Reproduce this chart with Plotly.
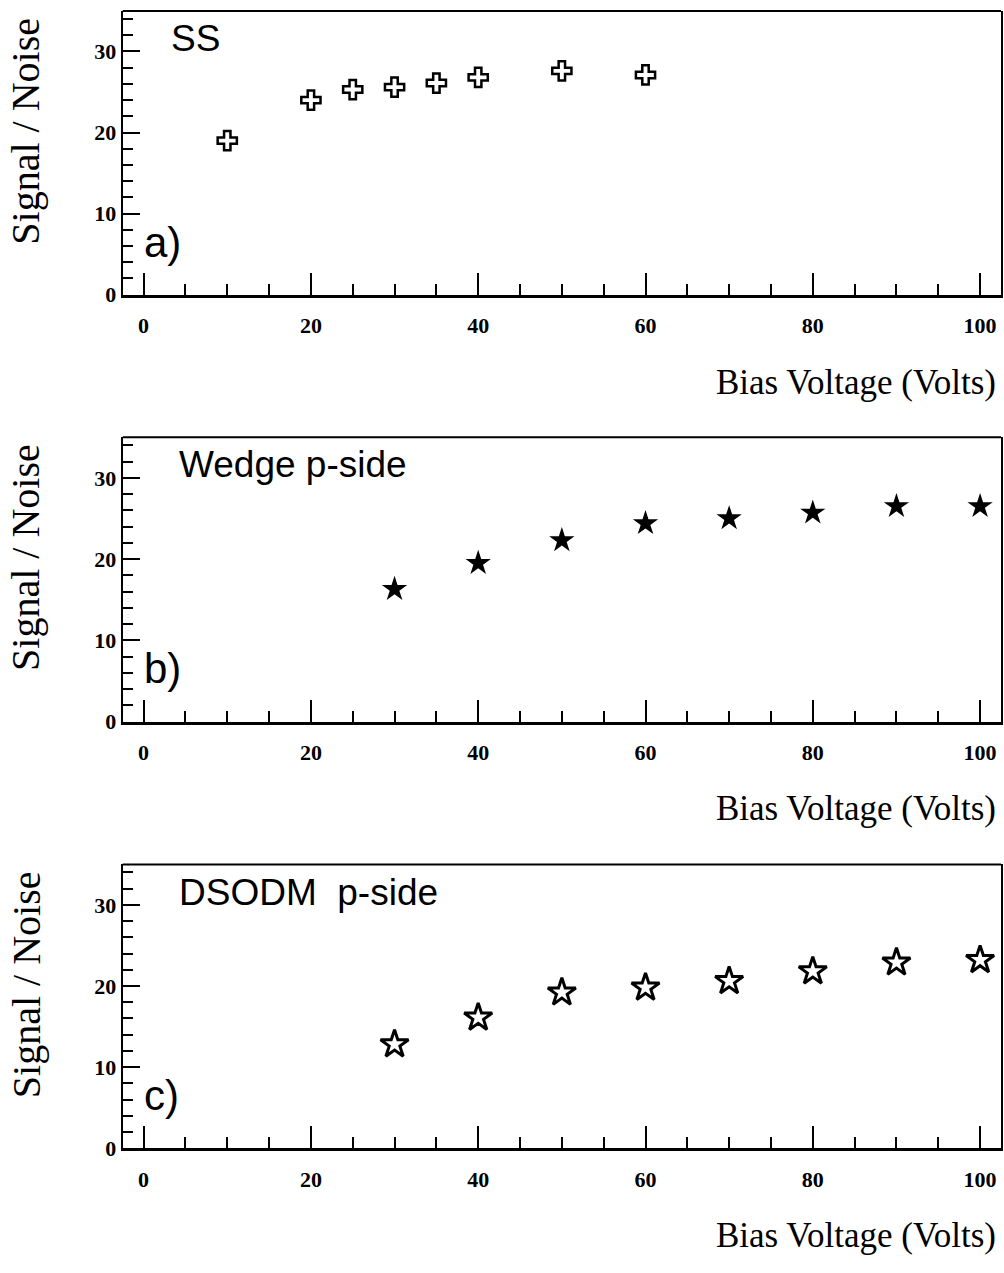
import plotly.graph_objects as go

# ---- data ----
ss_bias = [10, 20, 25, 30, 35, 40, 50, 60]
ss_sn = [19.0, 24.0, 25.3, 25.6, 26.1, 26.8, 27.6, 27.1]

wedge_bias = [30, 40, 50, 60, 70, 80, 90, 100]
wedge_sn = [16.3, 19.5, 22.3, 24.4, 25.0, 25.7, 26.5, 26.5]

dsodm_bias = [30, 40, 50, 60, 70, 80, 90, 100]
dsodm_sn = [12.8, 16.1, 19.2, 19.8, 20.6, 21.8, 22.9, 23.2]

panel_names = ["SS", "Wedge p-side", "DSODM  p-side"]
panel_letters = ["a)", "b)", "c)"]
x_title = "Bias Voltage (Volts)"
y_title = "Signal / Noise"

W, H = 1004, 1273
# panel pixel geometry (top, bottom) in page pixels
panels_px = [(11.0, 297.7), (441.7, 729.0), (873.3, 1160.0)]
x_left_px, x_right_px = 122.7, 1001.0

fig = go.Figure()

series = [
    (ss_bias, ss_sn, dict(symbol="cross-open", size=16, color="black", line=dict(color="black", width=2.5))),
    (wedge_bias, wedge_sn, dict(symbol="star", size=19, color="black", line=dict(color="black", width=0))),
    (dsodm_bias, dsodm_sn, dict(symbol="star-open", size=21, color="black", line=dict(color="black", width=3))),
]

tickfont = dict(family="Liberation Serif", size=22, color="black", weight="bold")
xdom = [x_left_px / W, x_right_px / W]
label_font = "Liberation Sans, Arial, sans-serif"

layout = dict(
    width=W, height=H,
    margin=dict(l=0, r=0, t=0, b=0),
    paper_bgcolor="white", plot_bgcolor="white",
    showlegend=False,
    annotations=[], shapes=[],
)

for i, (xs, ys, mk) in enumerate(series):
    n = "" if i == 0 else str(i + 1)
    top, bot = panels_px[i]
    ydom = [1 - bot / H, 1 - top / H]
    fig.add_trace(go.Scatter(x=xs, y=ys, mode="markers", marker=mk,
                             xaxis="x" + n, yaxis="y" + n, cliponaxis=False))
    layout["xaxis" + n] = dict(
        domain=xdom, anchor="y" + n, range=[-2.5, 102.5],
        tick0=0, dtick=20, ticks="inside", ticklen=22, tickwidth=1.5, tickcolor="black",
        minor=dict(ticks="inside", ticklen=11, tickwidth=1.5, tickcolor="black", dtick=5, tick0=0),
        showline=True, linewidth=3, linecolor="black",
        showgrid=False, zeroline=False, tickfont=tickfont, ticklabelstandoff=9,
    )
    layout["yaxis" + n] = dict(
        domain=ydom, anchor="x" + n, range=[0, 35],
        tick0=0, dtick=10, ticks="inside", ticklen=17, tickwidth=1.5, tickcolor="black",
        minor=dict(ticks="inside", ticklen=10, tickwidth=1.5, tickcolor="black", dtick=2, tick0=0),
        showline=True, linewidth=2, linecolor="black", mirror=True,
        showgrid=False, zeroline=False, tickfont=tickfont, ticklabelstandoff=0,
    )
    # top frame line
    layout["shapes"].append(dict(type="line", xref="x" + n + " domain", yref="y" + n + " domain",
                                 x0=0, x1=1, y0=1, y1=1, line=dict(color="black", width=2)))
    off = top - panels_px[0][0]
    # panel name
    layout["annotations"].append(dict(
        text=panel_names[i], xref="paper", yref="paper", x=(169 if i == 0 else 177) / W,
        y=1 - (39 + off) / H, xanchor="left", yanchor="middle", showarrow=False,
        font=dict(family=label_font, size=37, color="black")))
    # panel letter
    layout["annotations"].append(dict(
        text=panel_letters[i], xref="paper", yref="paper", x=142 / W,
        y=1 - (245 + off) / H, xanchor="left", yanchor="middle", showarrow=False,
        font=dict(family=label_font, size=42, color="black")))
    # x title
    layout["annotations"].append(dict(
        text=x_title, xref="paper", yref="paper", x=998 / W,
        y=1 - (386 + off) / H, xanchor="right", yanchor="middle", showarrow=False,
        font=dict(family="Liberation Serif", size=35, color="black")))
    # y title
    layout["annotations"].append(dict(
        text=y_title, xref="paper", yref="paper", x=26 / W,
        y=1 - (133 + off) / H, xanchor="center", yanchor="middle", showarrow=False,
        textangle=-90,
        font=dict(family="Liberation Serif", size=40, color="black")))

fig.update_layout(**layout)
fig.write_html("out.html", config={"displayModeBar": False},
               post_script="document.body.style.margin='0';")
